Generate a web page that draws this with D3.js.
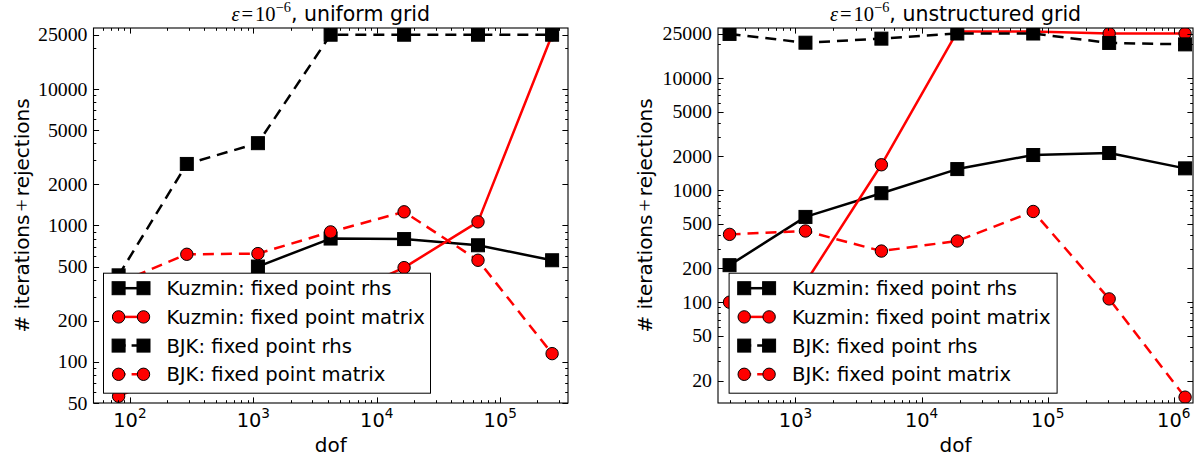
<!DOCTYPE html>
<html><head><meta charset="utf-8">
<script src="https://cdn.jsdelivr.net/npm/d3@7"></script>
<style>body{margin:0;background:#fff} svg{display:block}</style>
</head><body><svg id="c" width="1203" height="461"></svg>
<script>
// ---------- data ----------
const seriesNames = ["Kuzmin: fixed point rhs","Kuzmin: fixed point matrix","BJK: fixed point rhs","BJK: fixed point matrix"];

const dofUniform      = [81, 289, 1089, 4225, 16641, 66049, 263169];
const uniKuzminRhs    = [null, null, 500, 802, 795, 716, 556];
const uniKuzminMatrix = [56, null, null, null, 491, 1063, 25000];
const uniBjkRhs       = [431, 2824, 4010, 25000, 25000, 25000, 25000];
const uniBjkMatrix    = [380, 615, 622, 897, 1259, 556, 115];

const dofUnstructured = [300, 1200, 4800, 19200, 76800, 307200, 1228800];
const unsKuzminRhs    = [214, 577, 939, 1542, 2058, 2145, 1565];
const unsKuzminMatrix = [100, 150, 1685, 26000, 26000, 25000, 25000];
const unsBjkRhs       = [24800, 20700, 22500, 25000, 25000, 20600, 20000];
const unsBjkMatrix    = [403, 432, 286, 352, 645, 107, 14.2];

const yTicksUniform      = [50, 100, 200, 500, 1000, 2000, 5000, 10000, 25000];
const yTicksUnstructured = [20, 50, 100, 200, 500, 1000, 2000, 5000, 10000, 25000];
const xTicksUniform      = [1e2, 1e3, 1e4, 1e5];
const xTicksUnstructured = [1e3, 1e4, 1e5, 1e6];
const titles = [", uniform grid", ", unstructured grid"];

// ---------- drawing ----------
const svg = d3.select("#c");
const SANS = "'DejaVu Sans', sans-serif";
const SERIF = "'Liberation Serif', 'DejaVu Serif', serif";
const FS = 19.4;
const TOP = 28, BOTTOM = 403;

const styles = [
  {color:"#000000", dash:null,   legendDash:null,     marker:"square"},
  {color:"#ff0000", dash:null,   legendDash:null,     marker:"circle"},
  {color:"#000000", dash:"11,7", legendDash:"7,6,12", marker:"square"},
  {color:"#ff0000", dash:"11,7", legendDash:"7,6,12", marker:"circle"}
];

const panels = [
  {title:titles[0], dof:dofUniform, series:[uniKuzminRhs, uniKuzminMatrix, uniBjkRhs, uniBjkMatrix],
   xDomain:[50.7, 354000], yDomain:[50, 28000], left:93.5, right:568,
   yTicks:yTicksUniform, xTicks:xTicksUniform,
   legend:{x:103, y:272.7, w:327, h:120}, ylabelX:28.7},
  {title:titles[1], dof:dofUnstructured, series:[unsKuzminRhs, unsKuzminMatrix, unsBjkRhs, unsBjkMatrix],
   xDomain:[243, 1.42e6], yDomain:[12.6, 28000], left:718, right:1193,
   yTicks:yTicksUnstructured, xTicks:xTicksUnstructured,
   legend:{x:728.6, y:272.7, w:328, h:120}, ylabelX:652}
];

const SQ = 13, CR = 6.2, LW = 2.5;

function drawMarker(g, kind, color, x, y) {
  if (kind === "square") {
    g.append("rect").attr("x", x - SQ/2).attr("y", y - SQ/2).attr("width", SQ).attr("height", SQ)
      .attr("fill", color).attr("stroke", "#000").attr("stroke-width", 1);
  } else {
    g.append("circle").attr("cx", x).attr("cy", y).attr("r", CR)
      .attr("fill", color).attr("stroke", "#000").attr("stroke-width", 1);
  }
}

function logTicks(d0, d1) {
  const out = [];
  for (let k = Math.floor(Math.log10(d0)); k <= Math.ceil(Math.log10(d1)); k++) {
    for (let m = 1; m <= 9; m++) {
      const v = m * Math.pow(10, k);
      if (v >= d0 * 0.9999 && v <= d1 * 1.0001) out.push({v, m});
    }
  }
  return out;
}

panels.forEach((p, pi) => {
  const x = d3.scaleLog().domain(p.xDomain).range([p.left, p.right]);
  const y = d3.scaleLog().domain(p.yDomain).range([BOTTOM, TOP]);
  const g = svg.append("g");
  const clipId = "clip" + pi;
  svg.append("defs").append("clipPath").attr("id", clipId)
    .append("rect").attr("x", p.left).attr("y", TOP).attr("width", p.right - p.left).attr("height", BOTTOM - TOP);

  const plot = g.append("g").attr("clip-path", `url(#${clipId})`);
  p.series.forEach((vals, si) => {
    const st = styles[si];
    const pts = p.dof.map((d, i) => ({d, v: vals[i]})).filter(o => o.v != null);
    const line = d3.line().x(o => x(o.d)).y(o => y(o.v));
    const sg = plot.append("g");
    sg.append("path").attr("d", line(pts)).attr("fill", "none")
      .attr("stroke", st.color).attr("stroke-width", LW)
      .attr("stroke-dasharray", st.dash).attr("stroke-linejoin", "round");
    pts.forEach(o => drawMarker(sg, st.marker, st.color, x(o.d), y(o.v)));
  });

  // ticks (inward, mirrored)
  const tk = g.append("g").attr("stroke", "#000").attr("stroke-width", 1);
  logTicks(p.xDomain[0], p.xDomain[1]).forEach(t => {
    const L = t.m === 1 ? 5.6 : 2.8;
    const xx = Math.round(x(t.v)) + 0.5;
    tk.append("line").attr("x1", xx).attr("x2", xx).attr("y1", BOTTOM).attr("y2", BOTTOM - L);
    tk.append("line").attr("x1", xx).attr("x2", xx).attr("y1", TOP).attr("y2", TOP + L);
  });
  const ymaj = new Set(p.yTicks);
  logTicks(p.yDomain[0], p.yDomain[1]).forEach(t => {
    if (ymaj.has(t.v)) return;
    const yy = Math.round(y(t.v)) + 0.5;
    tk.append("line").attr("x1", p.left).attr("x2", p.left + 2.8).attr("y1", yy).attr("y2", yy);
    tk.append("line").attr("x1", p.right).attr("x2", p.right - 2.8).attr("y1", yy).attr("y2", yy);
  });
  p.yTicks.forEach(v => {
    const yy = Math.round(y(v)) + 0.5;
    tk.append("line").attr("x1", p.left).attr("x2", p.left + 5.6).attr("y1", yy).attr("y2", yy);
    tk.append("line").attr("x1", p.right).attr("x2", p.right - 5.6).attr("y1", yy).attr("y2", yy);
    g.append("text").attr("x", p.left - 6).attr("y", y(v)).attr("dy", "0.33em")
      .attr("text-anchor", "end").attr("font-family", SERIF).attr("font-size", 19.8).text(v);
  });
  p.xTicks.forEach(v => {
    const t = g.append("text").attr("x", x(v)).attr("y", 427).attr("text-anchor", "middle")
      .attr("font-family", SANS).attr("font-size", FS);
    t.append("tspan").text("10");
    t.append("tspan").attr("dy", -9).attr("font-size", 13.6).text(Math.round(Math.log10(v)));
  });

  // spines
  g.append("rect").attr("x", p.left).attr("y", TOP).attr("width", p.right - p.left).attr("height", BOTTOM - TOP)
    .attr("fill", "none").attr("stroke", "#000").attr("stroke-width", 1.1);

  // title
  const cx = (p.left + p.right) / 2;
  const TF = 20.5;
  const tt = g.append("text").attr("x", cx).attr("y", 21).attr("text-anchor", "middle").attr("font-size", TF);
  tt.append("tspan").attr("font-family", SERIF).attr("font-style", "italic").text("ε");
  tt.append("tspan").attr("font-family", SERIF).attr("dx", 2).text("=");
  tt.append("tspan").attr("font-family", SERIF).attr("dx", 2).text("10");
  tt.append("tspan").attr("font-family", SERIF).attr("font-size", 14.4).attr("dy", -9).text("−6");
  tt.append("tspan").attr("font-family", SANS).attr("dy", 9).text(p.title);

  // axis labels
  g.append("text").attr("x", cx).attr("y", 452).attr("text-anchor", "middle")
    .attr("font-family", SANS).attr("font-size", 20).text("dof");
  const yl = g.append("text").attr("transform", `translate(${p.ylabelX},${(TOP + BOTTOM) / 2}) rotate(-90)`)
    .attr("text-anchor", "middle").attr("font-family", SANS).attr("font-size", 20);
  yl.append("tspan").text("# iterations");
  yl.append("tspan").attr("font-family", SERIF).attr("font-size", 22).attr("dx", 3).text("+");
  yl.append("tspan").attr("dx", 3).text("rejections");

  // legend
  const lg = g.append("g");
  const L = p.legend;
  lg.append("rect").attr("x", L.x + 0.5).attr("y", L.y + 0.5).attr("width", L.w).attr("height", L.h)
    .attr("fill", "#fff").attr("stroke", "#000").attr("stroke-width", 1);
  seriesNames.forEach((name, si) => {
    const st = styles[si];
    const cy = L.y + 15.5 + si * 28.7;
    const x1 = L.x + 15.6, x2 = L.x + 40.5;
    lg.append("line").attr("x1", x1).attr("x2", x2).attr("y1", cy).attr("y2", cy)
      .attr("stroke", st.color).attr("stroke-width", LW).attr("stroke-dasharray", st.legendDash);
    drawMarker(lg, st.marker, st.color, x1, cy);
    drawMarker(lg, st.marker, st.color, x2, cy);
    lg.append("text").attr("x", L.x + 63.4).attr("y", cy).attr("dy", "0.36em")
      .attr("font-family", SANS).attr("font-size", 19.6).text(name);
  });
});
</script>
</body></html>
